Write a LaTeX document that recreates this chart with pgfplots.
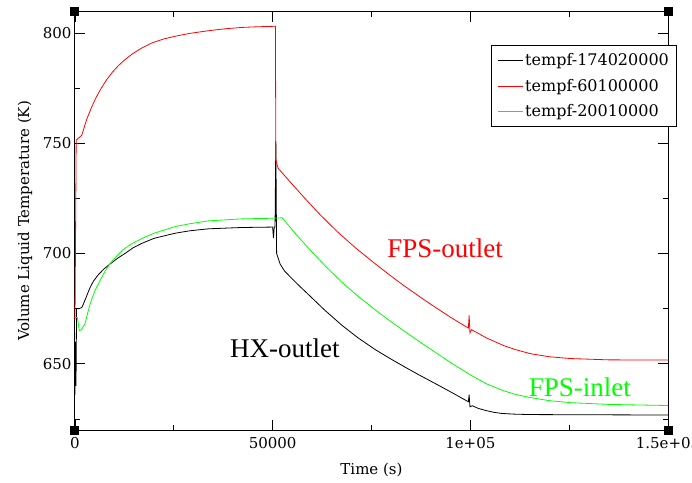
\documentclass[border=0pt]{standalone}
\usepackage{pgfplots}
\pgfplotsset{compat=1.18}
\usepackage{fontspec}
\setmainfont{DejaVu Serif}
\newfontfamily\annfont{Liberation Serif}
\definecolor{grgreen}{RGB}{0,255,0}
\definecolor{grred}{RGB}{255,0,0}

\begin{document}
\begin{tikzpicture}
  \useasboundingbox (-75pt,-52pt) rectangle (617pt,430pt);
  \begin{axis}[
      at={(0pt,0pt)},anchor=south west,
      scale only axis,width=593pt,height=418pt,
      clip=false,
      xmin=0,xmax=150000,ymin=620,ymax=809.5,
      xtick={0,50000,100000,150000},
      xticklabels={0,50000,1e+05,1.5e+05},
      minor xtick={25000,75000,125000},
      ytick={650,700,750,800},
      minor ytick={625,675,725,775},
      scaled ticks=false,
      tick align=inside,
      major tick length=10pt,minor tick length=5pt,
      every tick/.style={black,line width=0.8pt},
      axis line style={line width=1pt},
      /pgf/number format/assume math mode=true,
      ticklabel style={font=\fontsize{15}{18}\selectfont},
      xticklabel style={yshift=-4pt},
      xlabel={Time (s)},ylabel={Volume Liquid Temperature (K)},
      label style={font=\fontsize{15}{18}\selectfont},
      xlabel style={at={(axis description cs:0.5,-0.0957)},anchor=center},
      ylabel style={at={(axis description cs:-0.0843,0.5)},anchor=center},
      legend style={at={(0.7015,0.921)},anchor=north west,draw=black,line width=0.8pt,
        font=\fontsize{16}{19}\selectfont,row sep=8pt,inner sep=6pt},
      legend cell align=left,
      legend image code/.code={\draw[#1,line width=0.8pt] (0pt,0pt) -- (25pt,0pt);},
    ]
    % HX-outlet
    \addplot[black,line width=0.8pt] coordinates {
      (0,636)(150,660)(250,640)(400,675)(1000,675)(1700,675.5)(2100,677)
      (3000,681)(3800,684.5)(4600,687.3)(5800,690.2)(7300,693)(8900,695.3)
      (10800,697.9)(12700,700.1)(14700,702.6)(16900,704.6)(20000,706.9)
      (25300,709.2)(29000,710.3)(33700,711.2)(42000,711.8)(50000,712)
      (50200,707)(50400,712)(50600,712)(50800,751)(51000,700)(51900,695.2)
      (53000,692.1)(55000,688.4)(57000,684.9)(59000,681.5)(63000,674.6)
      (67500,667.5)(71500,661.9)(75900,656.5)(79500,652.6)(83000,649)
      (87000,645)(91500,640.7)(95500,636.8)(99500,632.8)(99700,636)(99900,630.5)
      (100500,631)(102000,629.8)(104000,628.8)(106000,628)(108000,627.5)
      (111000,627.2)(115000,627)(130000,626.9)(150000,626.8)};
    \addlegendentry{tempf-174020000}
    % FPS-outlet
    \addplot[grred,line width=0.8pt] coordinates {
      (0,670)(300,751.4)(1000,752.5)(1700,753.6)(2300,757)(3000,761)
      (4000,765.5)(5000,769.5)(6000,773)(7000,776)(8000,778.8)(9500,782.3)
      (11000,785.2)(12500,787.7)(14500,790.5)(16900,793.2)(19500,795.5)
      (22500,797.3)(25300,798.5)(29000,799.8)(33700,801)(38000,801.9)
      (42200,802.5)(46000,802.8)(50100,803)(50700,803)(50800,743)(51000,741)
      (51400,738.6)(55000,731.3)(58000,725.3)(62000,717.6)(66300,710)
      (71000,702.5)(75900,695.4)(80000,689.7)(83000,685.7)(88100,679.3)
      (91000,675.8)(95000,671.1)(99500,666.2)(99700,672)(99900,664)(100300,665.5)
      (104000,661.8)(108400,658.3)(111500,656.4)(115200,654.6)(120000,653.2)
      (125300,652.4)(135000,651.8)(150000,651.7)};
    \addlegendentry{tempf-60100000}
    % FPS-inlet
    \addplot[grgreen,line width=0.8pt] coordinates {
      (0,671)(600,671)(1100,665)(1600,665.5)(2500,668)(3200,673)(3800,677)
      (5000,683)(6300,687.6)(7600,692)(8900,695.5)(10100,698)(12000,701.5)
      (14200,704.3)(16900,706.8)(20000,709.2)(25300,712.2)(29000,713.5)
      (33700,714.8)(42000,715.7)(50100,716)(52400,716.2)(56000,708.5)
      (59900,700.8)(63500,694)(67500,687)(71500,680.8)(75900,674.5)
      (79500,669.7)(83000,665.2)(87000,660.2)(91500,654.8)(95500,650)
      (100000,645)(104000,641)(108400,637.8)(111500,636.1)(115200,634.7)
      (120000,633.3)(125300,632.4)(135000,631.6)(150000,631.1)};
    \addlegendentry{tempf-20010000}
    \node[grred,font=\annfont\fontsize{27}{31}\selectfont] at (axis cs:93600,702.6) {FPS-outlet};
    \node[black,font=\annfont\fontsize{27}{31}\selectfont] at (axis cs:53100,657.1) {HX-outlet};
    \node[grgreen,font=\annfont\fontsize{27}{31}\selectfont] at (axis cs:127700,639.6) {FPS-inlet};
    \fill[black] (rel axis cs:0,0) ++(-4.5pt,-4.5pt) rectangle ++(9pt,9pt);
    \fill[black] (rel axis cs:1,0) ++(-4.5pt,-4.5pt) rectangle ++(9pt,9pt);
    \fill[black] (rel axis cs:0,1) ++(-4.5pt,-4.5pt) rectangle ++(9pt,9pt);
    \fill[black] (rel axis cs:1,1) ++(-4.5pt,-4.5pt) rectangle ++(9pt,9pt);
  \end{axis}
\end{tikzpicture}
\end{document}
